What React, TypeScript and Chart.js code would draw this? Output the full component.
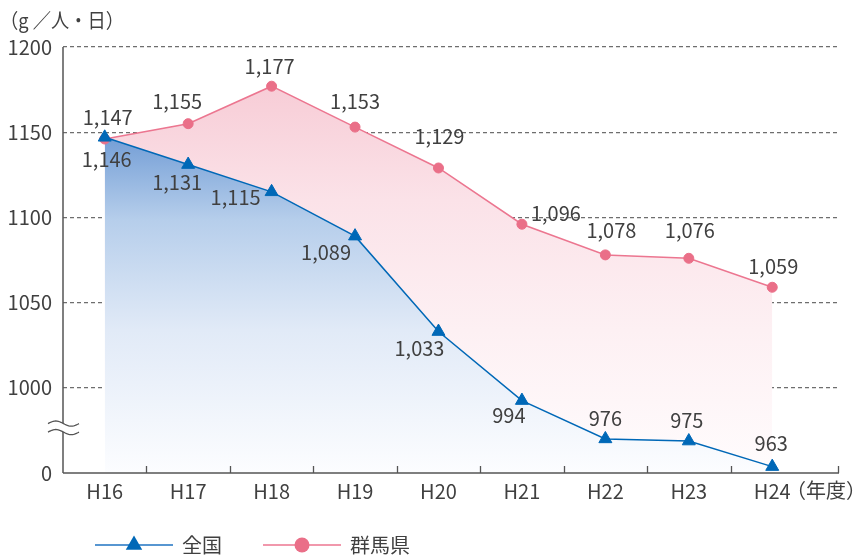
import React, { useEffect, useRef } from 'react';
import { Chart, registerables, LinearScale } from 'chart.js';

// ---------- data ----------
const categories = ['H16', 'H17', 'H18', 'H19', 'H20', 'H21', 'H22', 'H23', 'H24'];
const nationalValues = [1147, 1131, 1115, 1089, 1033, 994, 976, 975, 963];
const gunmaValues = [1146, 1155, 1177, 1153, 1129, 1096, 1078, 1076, 1059];
const seriesNames = ['全国', '群馬県'];
const yTickValues = [960, 1000, 1050, 1100, 1150, 1200];
const yTickLabels = ['0', '1000', '1050', '1100', '1150', '1200'];
const breakValue = 1000;
const unitLabel = '（g ／人・日）';
const xUnitLabel = '（年度）';

// ---------- layout / style ----------
const nationalLabelOffsets = [[3, -19], [-11, 19], [-36, 7], [-29, 17], [-19, 18], [-13, 16], [0, -20], [-2, -20], [-1, -22]];
const gunmaLabelOffsets = [[2, 21], [-11, -21], [-2, -19], [0, -25], [1, -31], [34, -10], [6, -23], [1, -27], [1, -20]];
const BLUE = '#0068b7';
const PINK = '#ea6f88';
const PINK_LINE = '#ec7690';
const TEXT = '#404040';
const AXIS = '#555555';
const FONT = '"Noto Sans CJK JP", "Noto Sans", sans-serif';

class BrokenLinearScale extends LinearScale {
  static id = 'brokenLinear';
  static defaults = LinearScale.defaults;
  buildTicks() {
    return yTickValues.map((v) => ({ value: v }));
  }
  _seg() {
    return (this.bottom - this.top) / (yTickValues.length - 1);
  }
  getPixelForValue(value: number) {
    if (value === null || value === undefined || isNaN(value)) return NaN;
    const seg = this._seg();
    if (value >= breakValue) {
      return this.bottom - seg - ((value - breakValue) / (this.max - breakValue)) * (this.bottom - this.top - seg);
    }
    return this.bottom - ((value - this.min) / (breakValue - this.min)) * seg;
  }
  getValueForPixel(pixel: number) {
    const seg = this._seg();
    const breakPix = this.bottom - seg;
    if (pixel <= breakPix) {
      return breakValue + ((breakPix - pixel) / (this.bottom - this.top - seg)) * (this.max - breakValue);
    }
    return this.min + ((this.bottom - pixel) / seg) * (breakValue - this.min);
  }
}

Chart.register(...registerables, BrokenLinearScale);

function vGradient(ctx: CanvasRenderingContext2D, stops: [number, string][]) {
  const g = ctx.createLinearGradient(0, 0, 0, 556);
  stops.forEach(([y, c]) => g.addColorStop(y / 556, c));
  return g;
}

const decorPlugin = {
  id: 'decor',
  afterDatasetsDraw(chart: any) {
    const { ctx, chartArea } = chart;
    const { left, right, bottom } = chartArea;
    const xs = chart.scales.x;
    const ys = chart.scales.y;

    ctx.save();
    // axes
    ctx.strokeStyle = AXIS;
    ctx.lineWidth = 1.5;
    ctx.beginPath();
    ctx.moveTo(left, chartArea.top);
    ctx.lineTo(left, bottom);
    ctx.moveTo(left, bottom);
    ctx.lineTo(right, bottom);
    ctx.stroke();
    // tick marks at category boundaries
    ctx.lineWidth = 1.3;
    ctx.beginPath();
    for (let i = 0; i < categories.length - 1; i++) {
      const x = Math.round(xs.getPixelForValue(i + 0.5)) + 0.5;
      ctx.moveTo(x, bottom);
      ctx.lineTo(x, bottom - 7);
    }
    ctx.moveTo(right - 0.5, bottom);
    ctx.lineTo(right - 0.5, bottom - 7);
    ctx.stroke();

    // axis break symbol
    const yBreak = ys.getPixelForValue(breakValue);
    const seg = bottom - yBreak;
    const y1 = yBreak + seg * 0.42;
    const y2 = yBreak + seg * 0.52;
    const bx0 = left - 15;
    const bx1 = left + 16;
    const A = 2.6;
    const curve = (yc: number, reverse: boolean) => {
      const n = 24;
      for (let k = 0; k <= n; k++) {
        const t = reverse ? 1 - k / n : k / n;
        const x = bx0 + (bx1 - bx0) * t;
        const y = yc - A * Math.sin(2 * Math.PI * t);
        if (k === 0 && !reverse) ctx.moveTo(x, y);
        else ctx.lineTo(x, y);
      }
    };
    ctx.fillStyle = '#ffffff';
    ctx.beginPath();
    curve(y1, false);
    curve(y2, true);
    ctx.closePath();
    ctx.fill();
    ctx.strokeStyle = AXIS;
    ctx.lineWidth = 1.3;
    ctx.beginPath();
    curve(y1, false);
    ctx.stroke();
    ctx.beginPath();
    curve(y2, false);
    ctx.stroke();

    // data labels
    ctx.fillStyle = TEXT;
    ctx.font = `20px ${FONT}`;
    ctx.textAlign = 'center';
    ctx.textBaseline = 'middle';
    const offsetsList = [nationalLabelOffsets, gunmaLabelOffsets];
    chart.data.datasets.forEach((ds: any, di: number) => {
      const meta = chart.getDatasetMeta(di);
      meta.data.forEach((pt: any, i: number) => {
        const v = ds.data[i].y;
        const off = offsetsList[di][i];
        ctx.fillText(v.toLocaleString('en-US'), pt.x + off[0], pt.y + off[1] - 1);
      });
    });

    // unit labels
    ctx.textAlign = 'left';
    ctx.fillText(unitLabel, 0, 20, 124);
    ctx.fillText(xUnitLabel, right - 53, bottom + 17);

    // legend
    const ly = chart.height - 11;
    const items = [
      { x: 95, color: BLUE, line: '#1f73c2', style: 'triangle' },
      { x: 263, color: PINK, line: PINK_LINE, style: 'circle' },
    ];
    items.forEach((it, i) => {
      ctx.strokeStyle = it.line;
      ctx.lineWidth = 1.5;
      ctx.beginPath();
      ctx.moveTo(it.x, ly);
      ctx.lineTo(it.x + 78, ly);
      ctx.stroke();
      const cx = it.x + 39;
      ctx.fillStyle = it.color;
      ctx.beginPath();
      if (it.style === 'triangle') {
        const r = 9.5;
        ctx.moveTo(cx, ly - r);
        ctx.lineTo(cx + r * 0.866, ly + r * 0.5);
        ctx.lineTo(cx - r * 0.866, ly + r * 0.5);
        ctx.closePath();
      } else {
        ctx.arc(cx, ly, 7.5, 0, Math.PI * 2);
      }
      ctx.fill();
      ctx.fillStyle = TEXT;
      ctx.font = `20px ${FONT}`;
      ctx.textAlign = 'left';
      ctx.fillText(seriesNames[i], it.x + 87, ly);
    });
    ctx.restore();
  },
};

export default function App() {
  const ref = useRef<HTMLCanvasElement>(null);
  useEffect(() => {
    const canvas = ref.current as HTMLCanvasElement;
    Chart.defaults.font.family = FONT;
    Chart.defaults.font.size = 20;
    Chart.defaults.color = TEXT;
    const chart = new Chart(canvas, {
      type: 'line',
      data: {
        datasets: [
          {
            label: seriesNames[0],
            data: nationalValues.map((v, i) => ({ x: i, y: v })),
            borderColor: BLUE,
            borderWidth: 1.5,
            pointStyle: 'triangle',
            pointRadius: 7.5,
            pointBackgroundColor: BLUE,
            pointBorderColor: BLUE,
            pointBorderWidth: 1,
            tension: 0,
            fill: 'start',
            backgroundColor: (c: any) =>
              vGradient(c.chart.ctx, [
                [130, 'rgb(110,154,212)'],
                [220, 'rgb(182,206,235)'],
                [330, 'rgb(225,234,247)'],
                [473, 'rgb(252,253,255)'],
              ]),
          },
          {
            label: seriesNames[1],
            data: gunmaValues.map((v, i) => ({ x: i, y: v })),
            borderColor: PINK_LINE,
            borderWidth: 1.5,
            pointStyle: 'circle',
            pointRadius: 5,
            pointBackgroundColor: PINK,
            pointBorderColor: PINK,
            pointBorderWidth: 1,
            tension: 0,
            fill: 'start',
            backgroundColor: (c: any) =>
              vGradient(c.chart.ctx, [
                [78, 'rgb(247,203,213)'],
                [200, 'rgb(251,226,232)'],
                [330, 'rgb(253,240,243)'],
                [473, 'rgb(255,252,253)'],
              ]),
          },
        ],
      },
      options: {
        responsive: false,
        animation: false,
        layout: { padding: { left: 0, right: 19, top: 47, bottom: 0 } },
        plugins: {
          legend: { display: false },
          tooltip: { enabled: false },
          filler: { drawTime: 'beforeDatasetsDraw' },
        },
        scales: {
          x: {
            type: 'linear',
            min: -0.5,
            max: categories.length - 0.5 + 0.3,
            afterBuildTicks: (s: any) => {
              s.ticks = categories.map((_, i) => ({ value: i }));
            },
            afterFit: (s: any) => {
              s.height = 83;
            },
            ticks: {
              callback: (v: any) => categories[v] ?? '',
              padding: 6,
              color: TEXT,
              font: { size: 20, family: FONT },
              maxRotation: 0,
              autoSkip: false,
            },
            grid: { display: false, drawTicks: false },
            border: { display: false },
          },
          y: {
            type: 'brokenLinear',
            min: yTickValues[0],
            max: yTickValues[yTickValues.length - 1],
            afterFit: (s: any) => {
              s.width = 63;
            },
            ticks: {
              callback: (v: any) => yTickLabels[yTickValues.indexOf(v)] ?? '',
              padding: 11,
              color: TEXT,
              font: { size: 20, family: FONT },
              autoSkip: false,
            },
            grid: {
              drawTicks: false,
              lineWidth: 1.2,
              color: (c: any) => (c.tick && c.tick.value === yTickValues[0] ? 'rgba(0,0,0,0)' : '#6e6e6e'),
            },
            border: { display: false, dash: [4, 3] },
          },
        },
      } as any,
      plugins: [decorPlugin],
    } as any);
    return () => chart.destroy();
  }, []);
  return (
    <div style={{ position: 'fixed', left: 0, top: 0, width: 858, height: 556, background: '#ffffff' }}>
      <canvas ref={ref} width={858} height={556} style={{ display: 'block' }} />
    </div>
  );
}
